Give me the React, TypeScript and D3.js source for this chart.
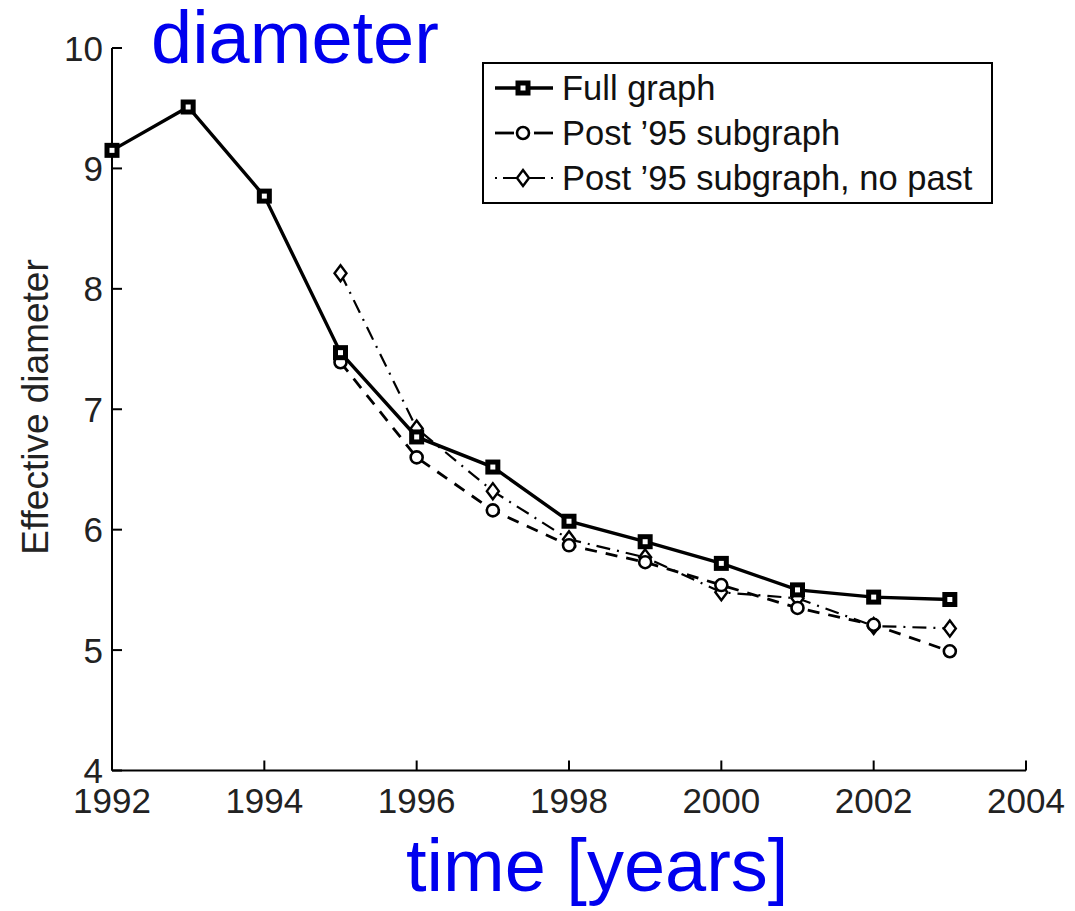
import * as d3 from 'd3';

const years = [1992, 1993, 1994, 1995, 1996, 1997, 1998, 1999, 2000, 2001, 2002, 2003];
const fullGraph = [9.15, 9.51, 8.77, 7.47, 6.77, 6.52, 6.07, 5.9, 5.72, 5.5, 5.44, 5.42];

const postYears = [1995, 1996, 1997, 1998, 1999, 2000, 2001, 2002, 2003];
const post95 = [7.39, 6.6, 6.16, 5.87, 5.73, 5.54, 5.35, 5.21, 4.99];
const post95NoPast = [8.13, 6.84, 6.32, 5.92, 5.77, 5.48, 5.43, 5.2, 5.18];

const xTicks = [1992, 1994, 1996, 1998, 2000, 2002, 2004];
const yTicks = [4, 5, 6, 7, 8, 9, 10];

const legendLabels = ['Full graph', "Post \u201995 subgraph", "Post \u201995 subgraph, no past"];

const W = 1075;
const H = 911;
const font = 'Liberation Sans, Arial, sans-serif';

const x = d3.scaleLinear().domain([1992, 2004]).range([112, 1026]);
const y = d3.scaleLinear().domain([4, 10]).range([770.5, 48]);

const line = d3
  .line<[number, number]>()
  .x((d) => x(d[0]))
  .y((d) => y(d[1]));

const Square = ({ cx, cy }: { cx: number; cy: number }) => (
  <rect x={cx - 5} y={cy - 5} width={10} height={10} fill="#fff" stroke="#000" strokeWidth={5} />
);

const Circle = ({ cx, cy }: { cx: number; cy: number }) => (
  <circle cx={cx} cy={cy} r={6} fill="#fff" stroke="#000" strokeWidth={2.6} />
);

const Diamond = ({ cx, cy }: { cx: number; cy: number }) => (
  <path
    d={`M${cx},${cy - 8}L${cx + 6},${cy}L${cx},${cy + 8}L${cx - 6},${cy}Z`}
    fill="#fff"
    stroke="#000"
    strokeWidth={2.4}
  />
);

export default function App() {
  const fullPts = years.map((yr, i) => [yr, fullGraph[i]] as [number, number]);
  const postPts = postYears.map((yr, i) => [yr, post95[i]] as [number, number]);
  const noPastPts = postYears.map((yr, i) => [yr, post95NoPast[i]] as [number, number]);

  const rowY = [88, 133, 178];

  return (
    <svg
      width={W}
      height={H}
      style={{ position: 'absolute', left: 0, top: 0, background: '#fff' }}
      fontFamily={font}
    >
      {/* axes */}
      <line x1={x(1992)} x2={x(1992)} y1={y(10)} y2={y(4)} stroke="#000" strokeWidth={2} />
      <line x1={x(1992)} x2={x(2004)} y1={y(4)} y2={y(4)} stroke="#000" strokeWidth={2} />
      {xTicks.map((t) => (
        <g key={`x${t}`}>
          <line x1={x(t)} x2={x(t)} y1={y(4)} y2={y(4) - 10} stroke="#000" strokeWidth={2} />
          <text x={x(t)} y={813} textAnchor="middle" fontSize={35} fill="#222">
            {t}
          </text>
        </g>
      ))}
      {yTicks.map((t) => (
        <g key={`y${t}`}>
          <line x1={x(1992)} x2={x(1992) + 10} y1={y(t)} y2={y(t)} stroke="#000" strokeWidth={2} />
          <text x={103} y={y(t) + 12.5} textAnchor="end" fontSize={35} fill="#222">
            {t}
          </text>
        </g>
      ))}
      <text
        transform={`translate(48,407) rotate(-90)`}
        textAnchor="middle"
        fontSize={37}
        fill="#222"
      >
        Effective diameter
      </text>

      {/* series */}
      <path d={line(noPastPts) ?? ''} fill="none" stroke="#000" strokeWidth={2.2} strokeDasharray="14,7,2,7" />
      <path d={line(postPts) ?? ''} fill="none" stroke="#000" strokeWidth={2.8} strokeDasharray="12,9" />
      <path d={line(fullPts) ?? ''} fill="none" stroke="#000" strokeWidth={3.4} />
      {noPastPts.map((p, i) => (
        <Diamond key={`d${i}`} cx={x(p[0])} cy={y(p[1])} />
      ))}
      {postPts.map((p, i) => (
        <Circle key={`c${i}`} cx={x(p[0])} cy={y(p[1])} />
      ))}
      {fullPts.map((p, i) => (
        <Square key={`s${i}`} cx={x(p[0])} cy={y(p[1])} />
      ))}

      {/* legend */}
      <rect x={483} y={63} width={509} height={140} fill="#fff" stroke="#000" strokeWidth={2} />
      <line x1={495} x2={553} y1={rowY[0]} y2={rowY[0]} stroke="#000" strokeWidth={3.4} />
      <Square cx={523} cy={rowY[0]} />
      <line x1={495} x2={514} y1={rowY[1]} y2={rowY[1]} stroke="#000" strokeWidth={2.8} />
      <line x1={534} x2={553} y1={rowY[1]} y2={rowY[1]} stroke="#000" strokeWidth={2.8} />
      <Circle cx={523} cy={rowY[1]} />
      <line x1={495} x2={553} y1={rowY[2]} y2={rowY[2]} stroke="#000" strokeWidth={2.2} strokeDasharray="2,6,42,6" />
      <Diamond cx={523} cy={rowY[2]} />
      {legendLabels.map((l, i) => (
        <text key={l} x={562} y={rowY[i] + 12} fontSize={34.5} fill="#111">
          {l}
        </text>
      ))}

      {/* annotations */}
      <text x={151} y={63} fontSize={74} fill="#0000ee">
        diameter
      </text>
      <text x={406} y={891} fontSize={74} fill="#0000ee">
        time [years]
      </text>
    </svg>
  );
}
